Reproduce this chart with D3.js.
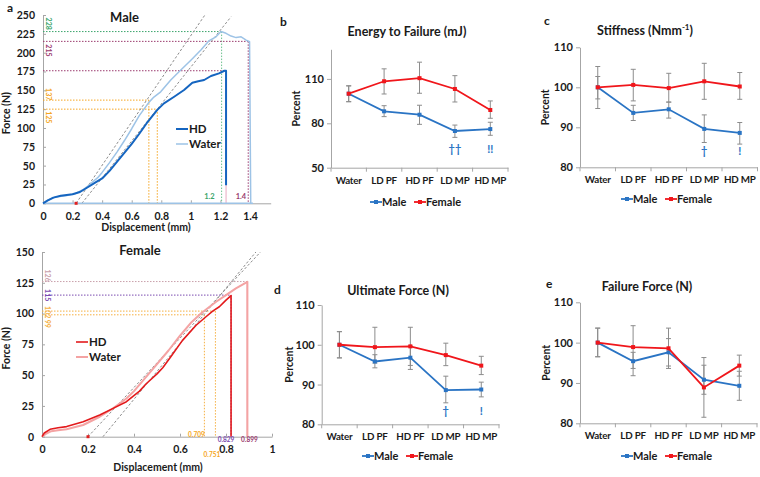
<!DOCTYPE html>
<html><head><meta charset="utf-8">
<script src="https://cdn.jsdelivr.net/npm/d3@7"></script>
<style>body{margin:0;background:#fff}</style>
</head><body><svg id="c" width="760" height="477"></svg>
<script>
// ---------- DATA ----------
const categories = ["Water","LD PF","HD PF","LD MP","HD MP"];

// b: Energy to Failure
const energyMale     = [100, 88.1, 85.8, 74.8, 76.1];
const energyMaleLo   = [94.6, 84.5, 79.3, 70.5, 71.9];
const energyMaleHi   = [105.3, 91.9, 92.2, 78.8, 80.7];
const energyFemale   = [100, 108.4, 110.5, 103.2, 89.0];
const energyFemaleLo = [94.6, 99.8, 100.3, 94.4, 83.4];
const energyFemaleHi = [105.3, 116.8, 121.3, 112.2, 95.1];
const energyMarks    = ["", "", "", "††", "!!"];

// c: Stiffness
const stiffMale     = [100, 93.6, 94.5, 89.6, 88.6];
const stiffMaleLo   = [97.1, 91.7, 92.3, 86.2, 85.8];
const stiffMaleHi   = [102.7, 95.5, 96.3, 93.1, 91.2];
const stiffFemale   = [100, 100.6, 99.8, 101.5, 100.2];
const stiffFemaleLo = [94.7, 96.6, 96.3, 97.0, 97.0];
const stiffFemaleHi = [105.2, 104.5, 103.5, 106.0, 103.7];
const stiffMarks    = ["", "", "", "†", "!"];

// d: Ultimate Force
const ultMale     = [100, 95.8, 96.75, 88.6, 88.75];
const ultMaleLo   = [96.7, 94.2, 93.8, 85.4, 86.9];
const ultMaleHi   = [103.3, 97.5, 99.7, 92.1, 90.6];
const ultFemale   = [100, 99.4, 99.6, 97.4, 94.75];
const ultFemaleLo = [96.7, 95.4, 94.8, 94.75, 92.5];
const ultFemaleHi = [103.3, 104.4, 104.4, 100.4, 97.1];
const ultMarks    = ["", "", "", "†", "!"];

// e: Failure Force
const failMale     = [100, 95.4, 97.6, 90.8, 89.3];
const failMaleLo   = [96.5, 93.6, 94.2, 87.2, 85.7];
const failMaleHi   = [103.6, 97.6, 101.0, 94.4, 92.9];
const failFemale   = [100, 98.9, 98.6, 88.9, 94.3];
const failFemaleLo = [96.5, 91.8, 93.6, 81.5, 91.7];
const failFemaleHi = [103.6, 104.2, 103.6, 96.3, 96.9];
const failMarks    = ["", "", "", "", ""];

// a: force-displacement curves [displacement mm, force N]
const maleHD = [[0,0],[0.03,3.5],[0.07,7.5],[0.12,10],[0.2,12],[0.25,15],[0.3,21],[0.35,27],[0.4,33],[0.45,43],
  [0.5,55],[0.55,67],[0.6,79],[0.65,92],[0.7,106],[0.773,124],[0.818,132.7],[0.887,141.5],[0.954,150.4],
  [1.01,160],[1.05,162],[1.09,163.7],[1.136,169],[1.19,172.5],[1.227,176],[1.238,176],[1.238,24]];
const maleWater = [[0,0],[0.03,4],[0.086,8.5],[0.165,10.5],[0.22,13],[0.27,18],[0.31,24],[0.37,34],[0.4,41],
  [0.45,54],[0.5,68],[0.55,83],[0.6,99],[0.65,116],[0.694,128],[0.716,134],[0.75,141],[0.796,148],[0.864,163.7],[0.932,177],
  [1.0,190],[1.068,203.5],[1.124,216],[1.17,221],[1.204,228],[1.238,225.7],[1.272,222],[1.306,220],[1.34,221],
  [1.374,216.7],[1.397,214.5],[1.405,0]];
const femaleHD = [[0,0],[0.01,3],[0.035,6],[0.07,7.3],[0.107,8.2],[0.179,12.2],[0.251,17.6],[0.309,23],[0.367,28.4],
  [0.424,37],[0.453,43],[0.5,51],[0.525,56],[0.56,65],[0.61,78],[0.67,90.5],[0.713,97.4],[0.742,102],
  [0.771,105.5],[0.8,110.9],[0.822,114.6],[0.822,0]];
const femaleWater = [[0,0],[0.015,2],[0.04,4.5],[0.07,5.3],[0.107,6],[0.179,9.5],[0.251,16.2],[0.309,23],[0.367,31],
  [0.4,37],[0.45,48],[0.5,59],[0.55,70],[0.6,82],[0.65,93],[0.692,100.2],[0.757,109.6],[0.8,115],[0.843,120.4],
  [0.893,125.8],[0.893,0]];
const maleTangents   = [[[0.224,0],[1.095,250]], [[0.263,0],[1.272,247.7]]];
const femaleTangents = [[[0.2,0],[0.95,150]], [[0.265,0],[0.93,150]]];
const maleRefForce   = [228, 215, 176, 137, 125];
const maleRefDisp    = [1.208, 1.388, 1.238, 0.716, 0.773];
const maleRefLabel   = ["228", "215", "", "137", "125"];
const femaleRefForce = [126, 115, 102, 99];
const femaleRefDisp  = [0.893, 0.822, 0.754, 0.706];
const femaleRefLabel = ["126", "115", "102", "99"];
const femaleDispLabel = ["0.899", "0.829", "0.751", "0.709"];
const maleDispLabel   = ["1.2", "1.4"];
const maleYTicks   = [0,25,50,75,100,125,150,175,200,225,250];
const maleXTicks   = [0,0.2,0.4,0.6,0.8,1,1.2,1.4];
const femaleYTicks = [0,25,50,75,100,125,150];
const femaleXTicks = [0,0.2,0.4,0.6,0.8,1];

// ---------- DRAW ----------
const FONT = "Lato, 'Open Sans', 'Liberation Sans', sans-serif";
const svg = d3.select("#c").attr("font-family", FONT);
const BLUE = "#2a74c4", RED = "#f0161b", GRAY = "#8c8c8c", AX = "#a6a6a6";

function styleAxis(g, fs, ls) {
  g.attr("font-family", FONT);
  g.select(".domain").attr("stroke", AX);
  g.selectAll(".tick line").attr("stroke", AX);
  g.selectAll(".tick text").attr("fill", "#1a1a1a").attr("font-weight", "bold").attr("font-size", fs || 10.5)
    .attr("letter-spacing", ls || null);
}
function text(x, y, s, opt) {
  opt = opt || {};
  return svg.append("text").attr("x", x).attr("y", y).text(s)
    .attr("font-size", opt.size || 10.5).attr("font-weight", opt.weight || "bold")
    .attr("fill", opt.fill || "#1a1a1a").attr("text-anchor", opt.anchor || "middle")
    .attr("transform", opt.rot ? `rotate(${opt.rot},${x},${y})` : null);
}

// ---- line panels ----
function linePanel(cfg) {
  const x = d3.scaleBand().domain(categories).range([cfg.x0, cfg.x1]);
  const y = d3.scaleLinear().domain(cfg.domain).range([cfg.yb, cfg.yt]);
  const g = svg.append("g");
  const ya = g.append("g").attr("transform", `translate(${cfg.x0},0)`)
    .call(d3.axisLeft(y).tickValues(cfg.ticks).tickSizeInner(4).tickSizeOuter(0).tickPadding(3));
  styleAxis(ya, 11);
  const xa = g.append("g").attr("transform", `translate(0,${cfg.yb})`)
    .call(d3.axisBottom(x).tickSize(0).tickPadding(9));
  styleAxis(xa, 9.8, "-0.2");
  g.selectAll(".bt").data(d3.range(categories.length + 1)).join("line")
    .attr("x1", i => cfg.x0 + i * x.bandwidth()).attr("x2", i => cfg.x0 + i * x.bandwidth())
    .attr("y1", cfg.yb).attr("y2", cfg.yb + 4).attr("stroke", AX);
  const cx = c => x(c) + x.bandwidth() / 2;
  const series = [
    {v: cfg.female, lo: cfg.femaleLo, hi: cfg.femaleHi, color: RED},
    {v: cfg.male, lo: cfg.maleLo, hi: cfg.maleHi, color: BLUE}
  ];
  series.forEach(s => {
    categories.forEach((c, i) => {
      const X = cx(c);
      g.append("line").attr("x1", X).attr("x2", X).attr("y1", y(s.lo[i])).attr("y2", y(s.hi[i]))
        .attr("stroke", GRAY).attr("stroke-width", 1);
      [s.lo[i], s.hi[i]].forEach(v => g.append("line").attr("x1", X - 2.5).attr("x2", X + 2.5)
        .attr("y1", y(v)).attr("y2", y(v)).attr("stroke", GRAY).attr("stroke-width", 1));
    });
  });
  [series[1], series[0]].forEach(s => {
    const pts = categories.map((c, i) => [cx(c), y(s.v[i])]);
    g.append("path").attr("d", d3.line()(pts)).attr("fill", "none").attr("stroke", s.color).attr("stroke-width", 1.8);
    g.selectAll(null).data(pts).join("rect").attr("x", d => d[0] - 2).attr("y", d => d[1] - 2)
      .attr("width", 4).attr("height", 4).attr("fill", s.color);
  });
  categories.forEach((c, i) => {
    if (cfg.marks[i]) text(cx(c), cfg.yb - cfg.markOff, cfg.marks[i], {fill: BLUE, size: 11});
  });
  const t = svg.append("text").attr("x", cfg.titleX).attr("y", cfg.titleY).attr("text-anchor", "middle")
    .attr("font-size", 12.5).attr("font-weight", "bold").attr("fill", "#1a1a1a");
  t.append("tspan").text(cfg.title);
  if (cfg.sup) {
    t.append("tspan").text(cfg.sup).attr("font-size", 8).attr("dy", -5);
    t.append("tspan").text(")").attr("dy", 5);
  }
  text(cfg.letterX, cfg.letterY, cfg.letter, {size: 12, anchor: "start"});
  text(cfg.ylabX, (cfg.yt + cfg.yb) / 2, "Percent", {size: 10.5, rot: -90});
  const lx = cfg.legX, ly = cfg.legY;
  [[BLUE, "Male", 0], [RED, "Female", 44]].forEach(([col, lab, off]) => {
    g.append("line").attr("x1", lx + off).attr("x2", lx + off + 12).attr("y1", ly).attr("y2", ly)
      .attr("stroke", col).attr("stroke-width", 1.8);
    g.append("rect").attr("x", lx + off + 4).attr("y", ly - 2).attr("width", 4).attr("height", 4).attr("fill", col);
    text(lx + off + 12, ly + 4, lab, {size: 11, anchor: "start"});
  });
}

linePanel({x0: 331, x1: 508, yb: 167.7, yt: 49.3, domain: [50, 130], ticks: [50, 80, 110],
  male: energyMale, maleLo: energyMaleLo, maleHi: energyMaleHi,
  female: energyFemale, femaleLo: energyFemaleLo, femaleHi: energyFemaleHi, marks: energyMarks, markOff: 15,
  title: "Energy to Failure (mJ)", titleX: 407, titleY: 36, letter: "b", letterX: 280, letterY: 26,
  ylabX: 300, legX: 370, legY: 202});
linePanel({x0: 580, x1: 757.5, yb: 167.3, yt: 47.3, domain: [80, 110], ticks: [80, 90, 100, 110],
  male: stiffMale, maleLo: stiffMaleLo, maleHi: stiffMaleHi,
  female: stiffFemale, femaleLo: stiffFemaleLo, femaleHi: stiffFemaleHi, marks: stiffMarks, markOff: 12,
  title: "Stiffness (Nmm", sup: "-1", titleX: 645, titleY: 35, letter: "c", letterX: 544, letterY: 25,
  ylabX: 549, legX: 621, legY: 199});
linePanel({x0: 321.7, x1: 499, yb: 424.3, yt: 305, domain: [80, 110], ticks: [80, 90, 100, 110],
  male: ultMale, maleLo: ultMaleLo, maleHi: ultMaleHi,
  female: ultFemale, femaleLo: ultFemaleLo, femaleHi: ultFemaleHi, marks: ultMarks, markOff: 9,
  title: "Ultimate Force (N)", titleX: 398, titleY: 294.5, letter: "d", letterX: 274, letterY: 294,
  ylabX: 293, legX: 362, legY: 456});
linePanel({x0: 580, x1: 757, yb: 423.3, yt: 302.3, domain: [80, 110], ticks: [80, 90, 100, 110],
  male: failMale, maleLo: failMaleLo, maleHi: failMaleHi,
  female: failFemale, femaleLo: failFemaleLo, femaleHi: failFemaleHi, marks: failMarks, markOff: 12,
  title: "Failure Force (N)", titleX: 647, titleY: 290.5, letter: "e", letterX: 546, letterY: 288,
  ylabX: 550, legX: 621, legY: 456});

// ---- force-displacement panels ----
function fdPanel(cfg) {
  const x = d3.scaleLinear().domain(cfg.xdom).range([cfg.x0, cfg.x1]);
  const y = d3.scaleLinear().domain(cfg.ydom).range([cfg.yb, cfg.yt]);
  const g = svg.append("g");
  const ya = g.append("g").attr("transform", `translate(${cfg.x0},0)`)
    .call(d3.axisLeft(y).tickValues(cfg.yticks).tickSizeInner(-3).tickSizeOuter(0).tickPadding(8));
  styleAxis(ya, 10.5);
  const xa = g.append("g").attr("transform", `translate(0,${cfg.yb})`)
    .call(d3.axisBottom(x).tickValues(cfg.xticks).tickFormat(d3.format("~g")).tickSizeInner(-3).tickSizeOuter(0).tickPadding(9));
  styleAxis(xa, 10.5);
  const line = d3.line().x(d => x(d[0])).y(d => y(d[1]));
  cfg.refF.forEach((f, i) => {
    g.append("path").attr("d", line([[0, f], [cfg.refD[i], f]])).attr("stroke", cfg.refC[i])
      .attr("stroke-width", 1).attr("stroke-dasharray", "1.5,1.5").attr("fill", "none");
    g.append("path").attr("d", line([[cfg.refD[i], f], [cfg.refD[i], 0]])).attr("stroke", cfg.refVC[i])
      .attr("stroke-width", 1).attr("stroke-dasharray", cfg.refVDash[i]).attr("fill", "none");
    if (cfg.refL[i]) {
      const yy = y(f) + cfg.refLOff[i];
      svg.append("text").attr("x", cfg.x0 + 3).attr("y", yy).text(cfg.refL[i])
        .attr("font-size", 7).attr("font-weight", "bold").attr("fill", cfg.refC[i])
        .attr("transform", `rotate(90,${cfg.x0 + 3},${yy})`);
    }
  });
  cfg.tangents.forEach(t => g.append("path").attr("d", line(t)).attr("stroke", "#8c8c8c")
    .attr("stroke-width", 1).attr("stroke-dasharray", "2.5,2").attr("fill", "none"));
  cfg.curves.forEach(c => g.append("path").attr("d", line(c.data)).attr("fill", "none")
    .attr("stroke", c.color).attr("stroke-width", c.w).attr("stroke-linejoin", "round"));
  g.append("rect").attr("x", x(cfg.tangents[0][0][0]) - 1.5).attr("y", cfg.yb - 1.5).attr("width", 3).attr("height", 3).attr("fill", "#e02020");
  text((cfg.x0 + 270) / 2 + cfg.titleDx, cfg.titleY, cfg.title, {size: 13});
  text(10, (cfg.yt + cfg.yb) / 2 + 4, "Force (N)", {size: 10.5, rot: -90});
  text(cfg.xlabX, cfg.xlabY, "Displacement (mm)", {size: 10.5});
  cfg.legend.forEach((l, i) => {
    g.append("line").attr("x1", cfg.legX).attr("x2", cfg.legX + 12).attr("y1", cfg.legY + i * 15)
      .attr("y2", cfg.legY + i * 15).attr("stroke", l.color).attr("stroke-width", l.w);
    text(cfg.legX + 13, cfg.legY + i * 15 + 4, l.name, {size: 11.5, anchor: "start"});
  });
  return {x, y};
}

const M = fdPanel({x0: 43, x1: 270.7, xdom: [0, 1.54], yb: 203.3, yt: 15, ydom: [0, 250],
  yticks: maleYTicks, xticks: maleXTicks,
  refF: maleRefForce, refD: maleRefDisp, refL: maleRefLabel,
  refC: ["#3aa56b", "#9b3a6e", "#9b3a6e", "#f5a623", "#f5a623"],
  refVC: ["#6cc08e", "#9b3a6e", "#e8a8c0", "#f5a623", "#f5a623"],
  refVDash: ["1.5,1.5", "1.5,1.5", null, "1.5,1.5", "1.5,1.5"],
  refLOff: [-14, 3, 0, -12, 2],
  tangents: maleTangents,
  curves: [{data: [[0, 0], [1.42, 0]], color: "#9dc3e6", w: 1.5},
           {data: maleWater, color: "#9dc3e6", w: 1.5},
           {data: maleHD, color: "#1565c0", w: 2}],
  title: "Male", titleY: 22, titleDx: -32, xlabX: 146, xlabY: 231,
  legend: [{name: "HD", color: "#1565c0", w: 2}, {name: "Water", color: "#9dc3e6", w: 1.5}],
  legX: 176, legY: 129});
text(M.x(1.208) - 7, 199, maleDispLabel[0], {size: 7.5, fill: "#3aa56b", anchor: "end"});
text(M.x(1.388) - 2, 199, maleDispLabel[1], {size: 7.5, fill: "#9b3a6e", anchor: "end"});
text(7, 12, "a", {size: 12, anchor: "start"});

const F = fdPanel({x0: 42, x1: 272, xdom: [0, 1], yb: 436.7, yt: 252, ydom: [0, 150],
  yticks: femaleYTicks, xticks: femaleXTicks,
  refF: femaleRefForce, refD: femaleRefDisp, refL: femaleRefLabel,
  refC: ["#c9a0aa", "#7b4bb0", "#f5b041", "#f5b041"],
  refVC: ["#b03040", "#7b4bb0", "#f5b041", "#f5b041"],
  refVDash: [null, "1.5,1.5", "1.5,1.5", "1.5,1.5"],
  refLOff: [-12, -6, -5, 5],
  tangents: femaleTangents,
  curves: [{data: femaleWater, color: "#f4a3a3", w: 2},
           {data: femaleHD, color: "#e31a1c", w: 1.6}],
  title: "Female", titleY: 255, titleDx: -16, xlabX: 158, xlabY: 471,
  legend: [{name: "HD", color: "#e31a1c", w: 1.6}, {name: "Water", color: "#f4a3a3", w: 2}],
  legX: 76, legY: 342});
// displacement labels of the female reference lines: [x-offset px, baseline y, colour]
const fdlStyle = [[2, 442, "#9b3a6e"], [-5, 442, "#7b4bb0"], [-3.5, 457, "#f5a623"], [-8, 437, "#f5a623"]];
femaleDispLabel.forEach((lab, i) => {
  const s = fdlStyle[i];
  text(F.x(femaleRefDisp[i]) + s[0], s[1], lab, {size: 6.5, fill: s[2]});
});
</script>
</body></html>
